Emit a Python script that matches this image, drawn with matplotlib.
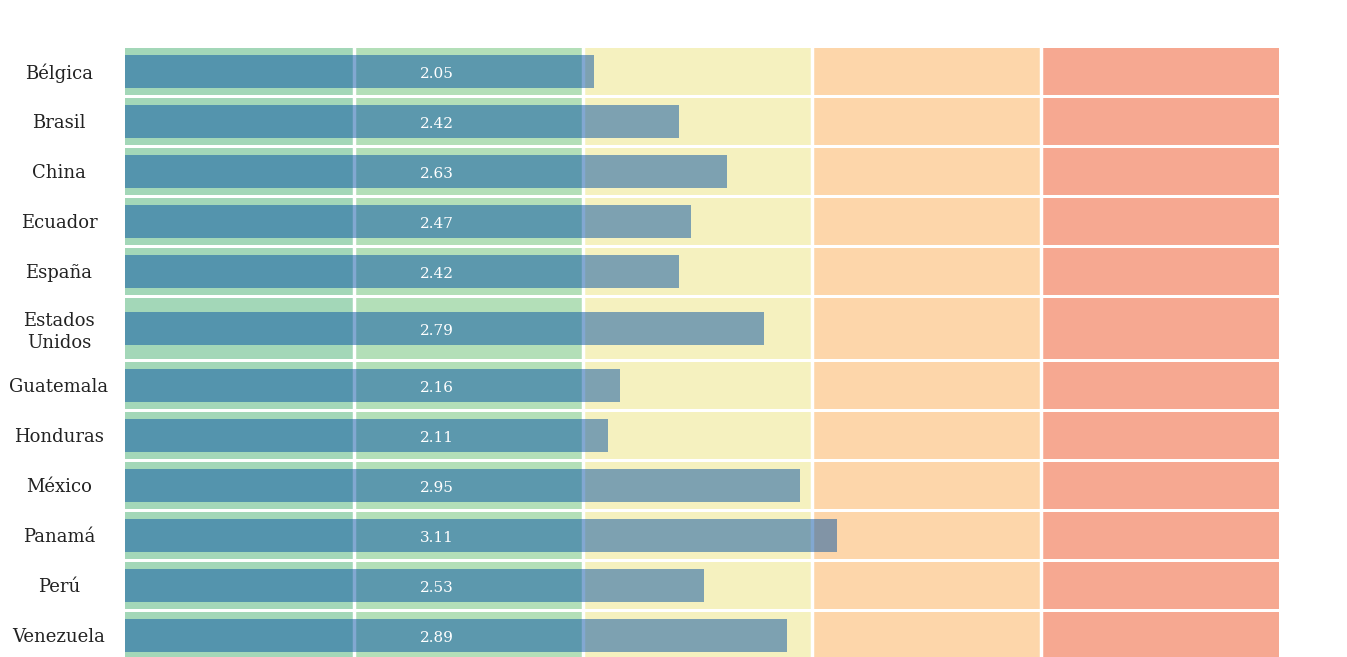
import numpy as np
import matplotlib.pyplot as plt

paises = ['Bélgica', 'Brasil', 'China', 'Ecuador', 'España', 'Estados\nUnidos',
          'Guatemala', 'Honduras', 'México', 'Panamá', 'Perú', 'Venezuela']
valores = [2.05, 2.42, 2.63, 2.47, 2.42, 2.79, 2.16, 2.11, 2.95, 3.11, 2.53, 2.89]

# background scale bands
bandas = [0, 1, 2, 3, 4, 5.04]
colores_banda = ['#a3d7b8', '#b3dfb8', '#f5f1bf', '#fdd6aa', '#f6a891']

# row heights in pixels (two-line label gets a taller row)
alturas = np.array([64 if '\n' in p else 50 for p in paises])
bordes = np.concatenate([[0], np.cumsum(alturas)])
centros = bordes[:-1] + alturas / 2

fig = plt.figure(figsize=(13.47, 6.57), dpi=100)
W, H = 1347, 657
top_px = 46
total = bordes[-1]
ax = fig.add_axes([125 / W, (H - top_px - total) / H, (1279 - 125) / W, total / H])

gap = 3
for i in range(len(paises)):
    y0 = bordes[i] + gap / 2
    h = alturas[i] - gap
    for j in range(len(colores_banda)):
        ax.barh(y0 + h / 2, bandas[j + 1] - bandas[j], left=bandas[j], height=h,
                color=colores_banda[j], zorder=1)

# white vertical separators
for b in bandas[1:-1]:
    ax.axvline(b, color='white', lw=2.5, zorder=2)

ax.barh(centros, valores, height=33, color='#0753a4', alpha=0.5, zorder=3)

for c, v in zip(centros, valores):
    ax.text(1.363, c + 3, f'{v:.2f}', color='white', ha='center', va='center',
            fontsize=11, family='DejaVu Serif', zorder=4)

ax.set_xlim(0, bandas[-1])
ax.set_ylim(total, 0)
ax.set_yticks(centros)
ax.set_yticklabels(paises, family='DejaVu Serif', fontsize=13, color='#222222',
                   ha='center', linespacing=1.25)
ax.tick_params(axis='y', length=0, pad=47.5)
ax.set_xticks([])
for s in ax.spines.values():
    s.set_visible(False)

fig.savefig('out.png', dpi=100)
